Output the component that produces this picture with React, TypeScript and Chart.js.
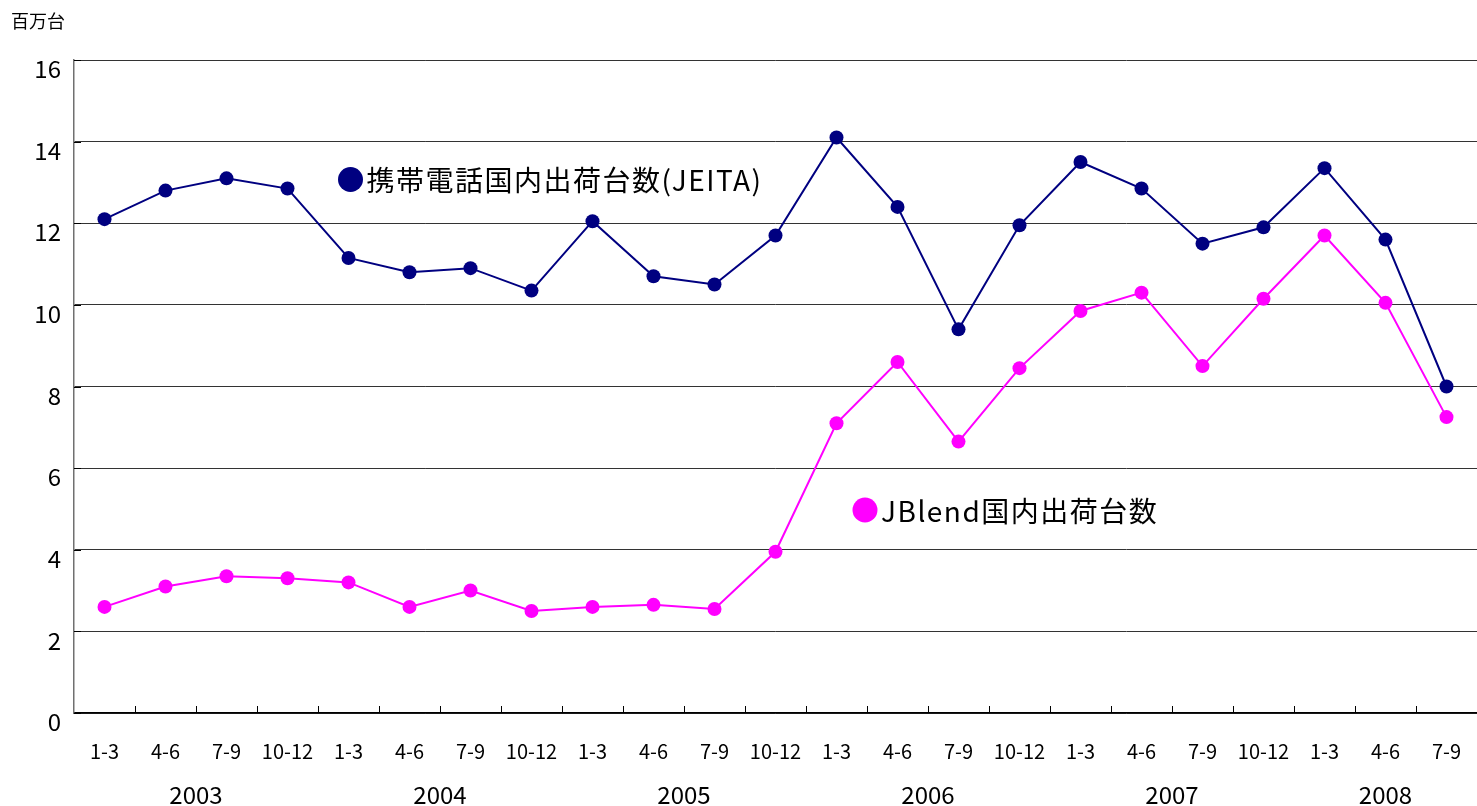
import React, { useEffect, useRef } from 'react';
import { Chart, registerables } from 'chart.js';

Chart.register(...registerables);

const quarters = [
  '1-3', '4-6', '7-9', '10-12',
  '1-3', '4-6', '7-9', '10-12',
  '1-3', '4-6', '7-9', '10-12',
  '1-3', '4-6', '7-9', '10-12',
  '1-3', '4-6', '7-9', '10-12',
  '1-3', '4-6', '7-9',
];
const years = ['2003', '2004', '2005', '2006', '2007', '2008'];
const yearSpans = [4, 4, 4, 4, 4, 3];

const jeita = [
  12.1, 12.8, 13.1, 12.85, 11.15, 10.8, 10.9, 10.35, 12.05, 10.7, 10.5, 11.7,
  14.1, 12.4, 9.4, 11.95, 13.5, 12.85, 11.5, 11.9, 13.35, 11.6, 8.0,
];
const jblend = [
  2.6, 3.1, 3.35, 3.3, 3.2, 2.6, 3.0, 2.5, 2.6, 2.65, 2.55, 3.95,
  7.1, 8.6, 6.65, 8.45, 9.85, 10.3, 8.5, 10.15, 11.7, 10.05, 7.25,
];
const yTicks = [0, 2, 4, 6, 8, 10, 12, 14, 16];

const seriesNames = ['携帯電話国内出荷台数(JEITA)', 'JBlend国内出荷台数'];
const unitLabel = '百万台';

const FONT = "'Noto Sans CJK JP', 'Noto Sans', sans-serif";
const NAVY = '#000080';
const MAGENTA = '#FF00FF';

const decorPlugin = {
  id: 'decor',
  afterDraw(chart: any) {
    const ctx = chart.ctx;
    const xs = chart.scales.x;
    const ys = chart.scales.y;
    const area = chart.chartArea;
    ctx.save();
    // unit label
    ctx.fillStyle = '#000';
    ctx.font = `18px ${FONT}`;
    ctx.textAlign = 'left';
    ctx.textBaseline = 'middle';
    ctx.fillText(unitLabel, 11, 21);

    // y labels (sit slightly below their gridlines)
    ctx.font = `24px ${FONT}`;
    ctx.textAlign = 'right';
    ctx.textBaseline = 'middle';
    yTicks.forEach((v) => {
      ctx.fillText(String(v), 61, ys.getPixelForValue(v) + 9);
    });

    // y inner ticks
    ctx.strokeStyle = '#000';
    ctx.lineWidth = 1;
    yTicks.forEach((v) => {
      const y = Math.round(ys.getPixelForValue(v)) + 0.5;
      ctx.beginPath();
      ctx.moveTo(area.left, y);
      ctx.lineTo(area.left + 7, y);
      ctx.stroke();
    });
    // x inner ticks at category boundaries
    const step = (area.right - area.left) / quarters.length;
    for (let i = 1; i < quarters.length; i++) {
      const x = Math.round(area.left + step * i) + 0.5;
      ctx.beginPath();
      ctx.moveTo(x, area.bottom);
      ctx.lineTo(x, area.bottom - 7);
      ctx.stroke();
    }

    // year labels
    ctx.fillStyle = '#000';
    ctx.font = `24px ${FONT}`;
    ctx.textAlign = 'center';
    ctx.textBaseline = 'middle';
    let idx = 0;
    years.forEach((yr, k) => {
      const a = xs.getPixelForValue(idx);
      const b = xs.getPixelForValue(idx + yearSpans[k] - 1);
      ctx.fillText(yr, (a + b) / 2, 795);
      idx += yearSpans[k];
    });

    // in-plot legend labels
    const drawLabel = (color: string, text: string, cx: number, cy: number) => {
      ctx.fillStyle = color;
      ctx.beginPath();
      ctx.arc(cx, cy, 12.5, 0, Math.PI * 2);
      ctx.fill();
      ctx.fillStyle = '#000';
      ctx.font = `28px ${FONT}`;
      ctx.textAlign = 'left';
      ctx.textBaseline = 'middle';
      try { (ctx as any).letterSpacing = '1.5px'; } catch (e) {}
      ctx.fillText(text, cx + 16, cy + 1);
      try { (ctx as any).letterSpacing = '0px'; } catch (e) {}
    };
    drawLabel(NAVY, seriesNames[0], 350.5, 179.5);
    drawLabel(MAGENTA, seriesNames[1], 865, 510);
    ctx.restore();
  },
};

export default function App() {
  const ref = useRef<HTMLCanvasElement>(null);
  useEffect(() => {
    if (!ref.current) return;
    const chart = new Chart(ref.current, {
      type: 'line',
      data: {
        labels: quarters,
        datasets: [
          {
            label: seriesNames[0],
            data: jeita,
            borderColor: NAVY,
            backgroundColor: NAVY,
            borderWidth: 2,
            pointRadius: 7,
            pointBorderWidth: 0,
            tension: 0,
            clip: false,
          },
          {
            label: seriesNames[1],
            data: jblend,
            borderColor: MAGENTA,
            backgroundColor: MAGENTA,
            borderWidth: 2,
            pointRadius: 7,
            pointBorderWidth: 0,
            tension: 0,
            clip: false,
          },
        ],
      },
      options: {
        animation: false,
        responsive: false,
        devicePixelRatio: 1,
        layout: { autoPadding: false, padding: { top: 60, right: 0, left: 0, bottom: 0 } },
        plugins: { legend: { display: false }, tooltip: { enabled: false } },
        scales: {
          x: {
            type: 'category',
            offset: true,
            grid: { display: false, drawTicks: false },
            border: { display: true, color: '#000', width: 1.5 },
            ticks: {
              color: '#000',
              font: { family: FONT, size: 20 },
              padding: 26,
              maxRotation: 0,
              autoSkip: false,
            },
            afterFit: (s: any) => {
              s.height = 93;
              s.paddingLeft = 0;
              s.paddingRight = 0;
            },
          },
          y: {
            min: 0,
            max: 16,
            afterBuildTicks: (s: any) => { s.ticks = yTicks.map((v) => ({ value: v })); },
            grid: { color: '#333', lineWidth: 1, drawTicks: false },
            border: { display: true, color: '#707070', width: 1.5 },
            ticks: { display: false },
            afterFit: (s: any) => {
              s.width = 74;
              s.paddingTop = 0;
              s.paddingBottom = 0;
            },
          },
        },
      },
      plugins: [decorPlugin],
    });
    return () => chart.destroy();
  }, []);
  return (
    <div style={{ position: 'absolute', left: 0, top: 0, width: 1477, height: 806, background: '#fff' }}>
      <canvas ref={ref} width={1477} height={806} style={{ display: 'block' }} />
    </div>
  );
}
